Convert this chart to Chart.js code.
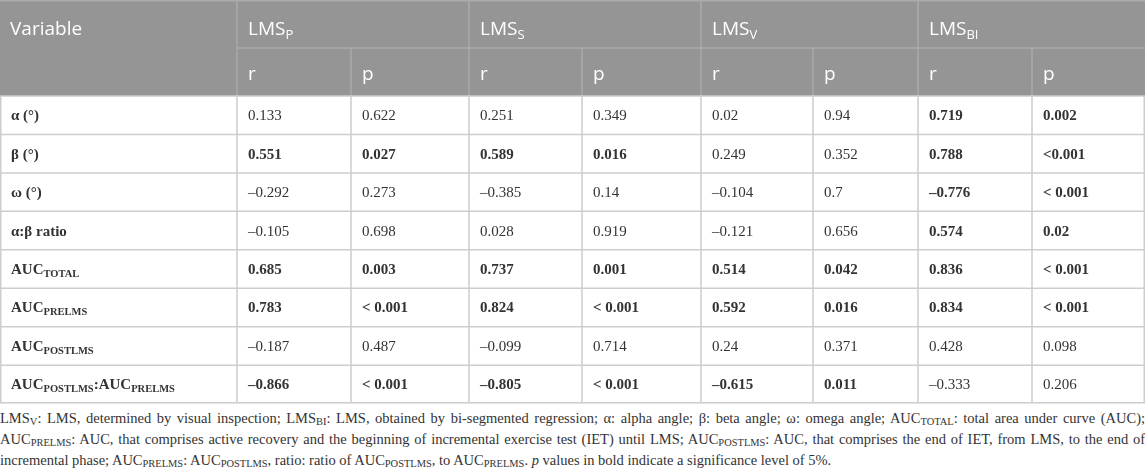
<!DOCTYPE html>
<html>
<head>
<meta charset="utf-8">
<script src="https://cdn.jsdelivr.net/npm/chart.js@4.4.1/dist/chart.umd.min.js"></script>
<style>
  html, body { margin: 0; padding: 0; background: #fff; }
  #wrap { position: relative; width: 1145px; height: 405px; }
  #foot { width: 1145px; margin-top: 3px; font-family: "Liberation Serif", serif; font-size: 14.5px; line-height: 21px; color: #333; }
  #foot .ln { display: block; white-space: nowrap; }
  #foot sub { font-size: 0.72em; vertical-align: -0.22em; line-height: 0; }
</style>
</head>
<body>
<div id="wrap"><canvas id="myChart"></canvas></div>
<div id="foot">
  <div class="ln"><span>LMS<sub>V</sub>: LMS, determined by visual inspection; LMS<sub>BI</sub>: LMS, obtained by bi-segmented regression; α: alpha angle; β: beta angle; ω: omega angle; AUC<sub>TOTAL</sub>: total area under curve (AUC);</span></div>
  <div class="ln"><span>AUC<sub>PRELMS</sub>: AUC, that comprises active recovery and the beginning of incremental exercise test (IET) until LMS; AUC<sub>POSTLMS</sub>: AUC, that comprises the end of IET, from LMS, to the end of</span></div>
  <div class="ln last"><span>incremental phase; AUC<sub>PRELMS</sub>: AUC<sub>POSTLMS</sub>, ratio: ratio of AUC<sub>POSTLMS</sub>, to AUC<sub>PRELMS</sub>. <i>p</i> values in bold indicate a significance level of 5%.</span></div>
</div>
<script>
// table values (r and p per LMS method)
var variables = ['α (°)', 'β (°)', 'ω (°)', 'α:β ratio', 'AUC_{TOTAL}', 'AUC_{PRELMS}', 'AUC_{POSTLMS}', 'AUC_{POSTLMS}:AUC_{PRELMS}'];
var methods = ['LMS_{P}', 'LMS_{S}', 'LMS_{V}', 'LMS_{BI}'];
var statLabels = ['r', 'p'];
var lmsP_r = [0.133, 0.551, -0.292, -0.105, 0.685, 0.783, -0.187, -0.866];
var lmsP_p = ['0.622', '0.027', '0.273', '0.698', '0.003', '< 0.001', '0.487', '< 0.001'];
var lmsS_r = [0.251, 0.589, -0.385, 0.028, 0.737, 0.824, -0.099, -0.805];
var lmsS_p = ['0.349', '0.016', '0.14', '0.919', '0.001', '< 0.001', '0.714', '< 0.001'];
var lmsV_r = [0.02, 0.249, -0.104, -0.121, 0.514, 0.592, 0.24, -0.615];
var lmsV_p = ['0.94', '0.352', '0.7', '0.656', '0.042', '0.016', '0.371', '0.011'];
var lmsBI_r = [0.719, 0.788, -0.776, 0.574, 0.836, 0.834, 0.428, -0.333];
var lmsBI_p = ['0.002', '<0.001', '< 0.001', '0.02', '< 0.001', '< 0.001', '0.098', '0.206'];

// layout
var colEdges = [0, 237, 351, 469, 582, 701, 813, 918, 1032, 1145];
var headSplit = 48, bodyTop = 96, rowH = 38.45;
var tableH = 405;
var headBg = '#959595', headLine = '#ababab', bodyLine = '#cdcdcd';
var headFont = '19px "Open Sans"', headSub = '13px "Open Sans"';
var bodyFont = '15px "Liberation Serif"', bodyBold = 'bold 15px "Liberation Serif"';
var labelSub = 'bold 10.5px "Liberation Serif"';

function fmtR(v) {
	return String(v).replace('-', '\u2013');
}
function isSig(p) {
	return p.indexOf('<') === 0 || parseFloat(p) < 0.05;
}

function drawRich(ctx, str, x, y, font, subFont, subDy) {
	var parts = str.split(/_\{|\}/);
	for (var k = 0; k < parts.length; k++) {
		if (!parts[k]) continue;
		var sub = k % 2 === 1;
		ctx.font = sub ? subFont : font;
		ctx.fillText(parts[k], x, y + (sub ? subDy : 0));
		x += ctx.measureText(parts[k]).width;
	}
}

// build one scatter dataset per table column, points sit at row centres
var columns = [{ texts: variables, bold: variables.map(function(){ return true; }), label: true }];
var series = [[lmsP_r, lmsP_p], [lmsS_r, lmsS_p], [lmsV_r, lmsV_p], [lmsBI_r, lmsBI_p]];
series.forEach(function(s) {
	var sig = s[1].map(isSig);
	columns.push({ texts: s[0].map(fmtR), bold: sig });
	columns.push({ texts: s[1], bold: sig });
});

var datasets = columns.map(function(col, c) {
	return {
		label: 'col' + c,
		data: col.texts.map(function(t, i) {
			return { x: colEdges[c], y: bodyTop + (i + 0.5) * rowH };
		}),
		texts: col.texts,
		bold: col.bold,
		isLabel: !!col.label,
		pointRadius: 0
	};
});

var tablePlugin = {
	id: 'tablePlugin',
	beforeDatasetsDraw: function(chart) {
		var ctx = chart.ctx, xs = chart.scales.x, ys = chart.scales.y;
		var X = function(v) { return xs.getPixelForValue(v); };
		var Y = function(v) { return ys.getPixelForValue(v); };
		ctx.save();
		// header band
		ctx.fillStyle = headBg;
		ctx.fillRect(X(0), Y(0), X(1145) - X(0), Y(bodyTop) - Y(0));
		// header lines
		ctx.strokeStyle = headLine;
		ctx.lineWidth = 1.5;
		ctx.beginPath();
		ctx.moveTo(X(0), Y(0) + 0.75); ctx.lineTo(X(1145), Y(0) + 0.75);
		ctx.moveTo(X(colEdges[1]), Y(headSplit)); ctx.lineTo(X(1145), Y(headSplit));
		for (var c = 1; c < colEdges.length - 1; c++) {
			var top = (c % 2 === 1) ? 0 : headSplit;
			ctx.moveTo(X(colEdges[c]), Y(top)); ctx.lineTo(X(colEdges[c]), Y(bodyTop));
		}
		ctx.stroke();
		// body grid
		ctx.strokeStyle = bodyLine;
		ctx.beginPath();
		for (var i = 0; i <= variables.length; i++) {
			var yy = Y(bodyTop + i * rowH);
			if (i === variables.length) yy -= 0.75;
			ctx.moveTo(X(0), yy); ctx.lineTo(X(1145), yy);
		}
		for (var c2 = 0; c2 < colEdges.length; c2++) {
			var xx = X(colEdges[c2]);
			if (c2 === 0) xx += 0.75;
			if (c2 === colEdges.length - 1) xx -= 0.75;
			ctx.moveTo(xx, Y(bodyTop)); ctx.lineTo(xx, Y(bodyTop + variables.length * rowH));
		}
		ctx.stroke();
		// header text
		ctx.fillStyle = '#fff';
		ctx.textBaseline = 'alphabetic';
		ctx.textAlign = 'left';
		ctx.font = headFont;
		ctx.fillText('Variable', X(colEdges[0]) + 10, Y(0) + 35);
		methods.forEach(function(m, k) {
			drawRich(ctx, m, X(colEdges[1 + 2 * k]) + 11, Y(0) + 35, headFont, headSub, 4);
			statLabels.forEach(function(s, j) {
				ctx.font = headFont;
				ctx.fillText(s, X(colEdges[1 + 2 * k + j]) + 11, Y(headSplit) + 32);
			});
		});
		ctx.restore();
	},
	afterDatasetsDraw: function(chart) {
		var ctx = chart.ctx;
		ctx.save();
		ctx.fillStyle = '#333';
		ctx.textBaseline = 'alphabetic';
		ctx.textAlign = 'left';
		chart.data.datasets.forEach(function(ds, d) {
			var meta = chart.getDatasetMeta(d);
			meta.data.forEach(function(pt, i) {
				var font = ds.bold[i] ? bodyBold : bodyFont;
				drawRich(ctx, ds.texts[i], pt.x + 11, pt.y + 5, font, labelSub, 3);
			});
		});
		ctx.restore();
	}
};

var ctx = document.getElementById('myChart').getContext('2d');
var myTable = new Chart(ctx, {
	type: 'scatter',
	data: { datasets: datasets },
	options: {
		responsive: true,
		maintainAspectRatio: false,
		animation: false,
		events: [],
		layout: { padding: 0 },
		plugins: { legend: { display: false }, tooltip: { enabled: false } },
		scales: {
			x: { type: 'linear', min: 0, max: 1145, display: false },
			y: { type: 'linear', min: 0, max: tableH, reverse: true, display: false }
		}
	},
	plugins: [tablePlugin]
});

// justify the footnote lines across the full width
document.querySelectorAll('#foot .ln').forEach(function(el) {
	if (el.classList.contains('last')) return;
	var span = el.querySelector('span');
	var spaces = (span.textContent.match(/ /g) || []).length;
	var w = span.getBoundingClientRect().width;
	span.style.wordSpacing = ((1145 - w) / spaces) + 'px';
});
</script>
</body>
</html>
